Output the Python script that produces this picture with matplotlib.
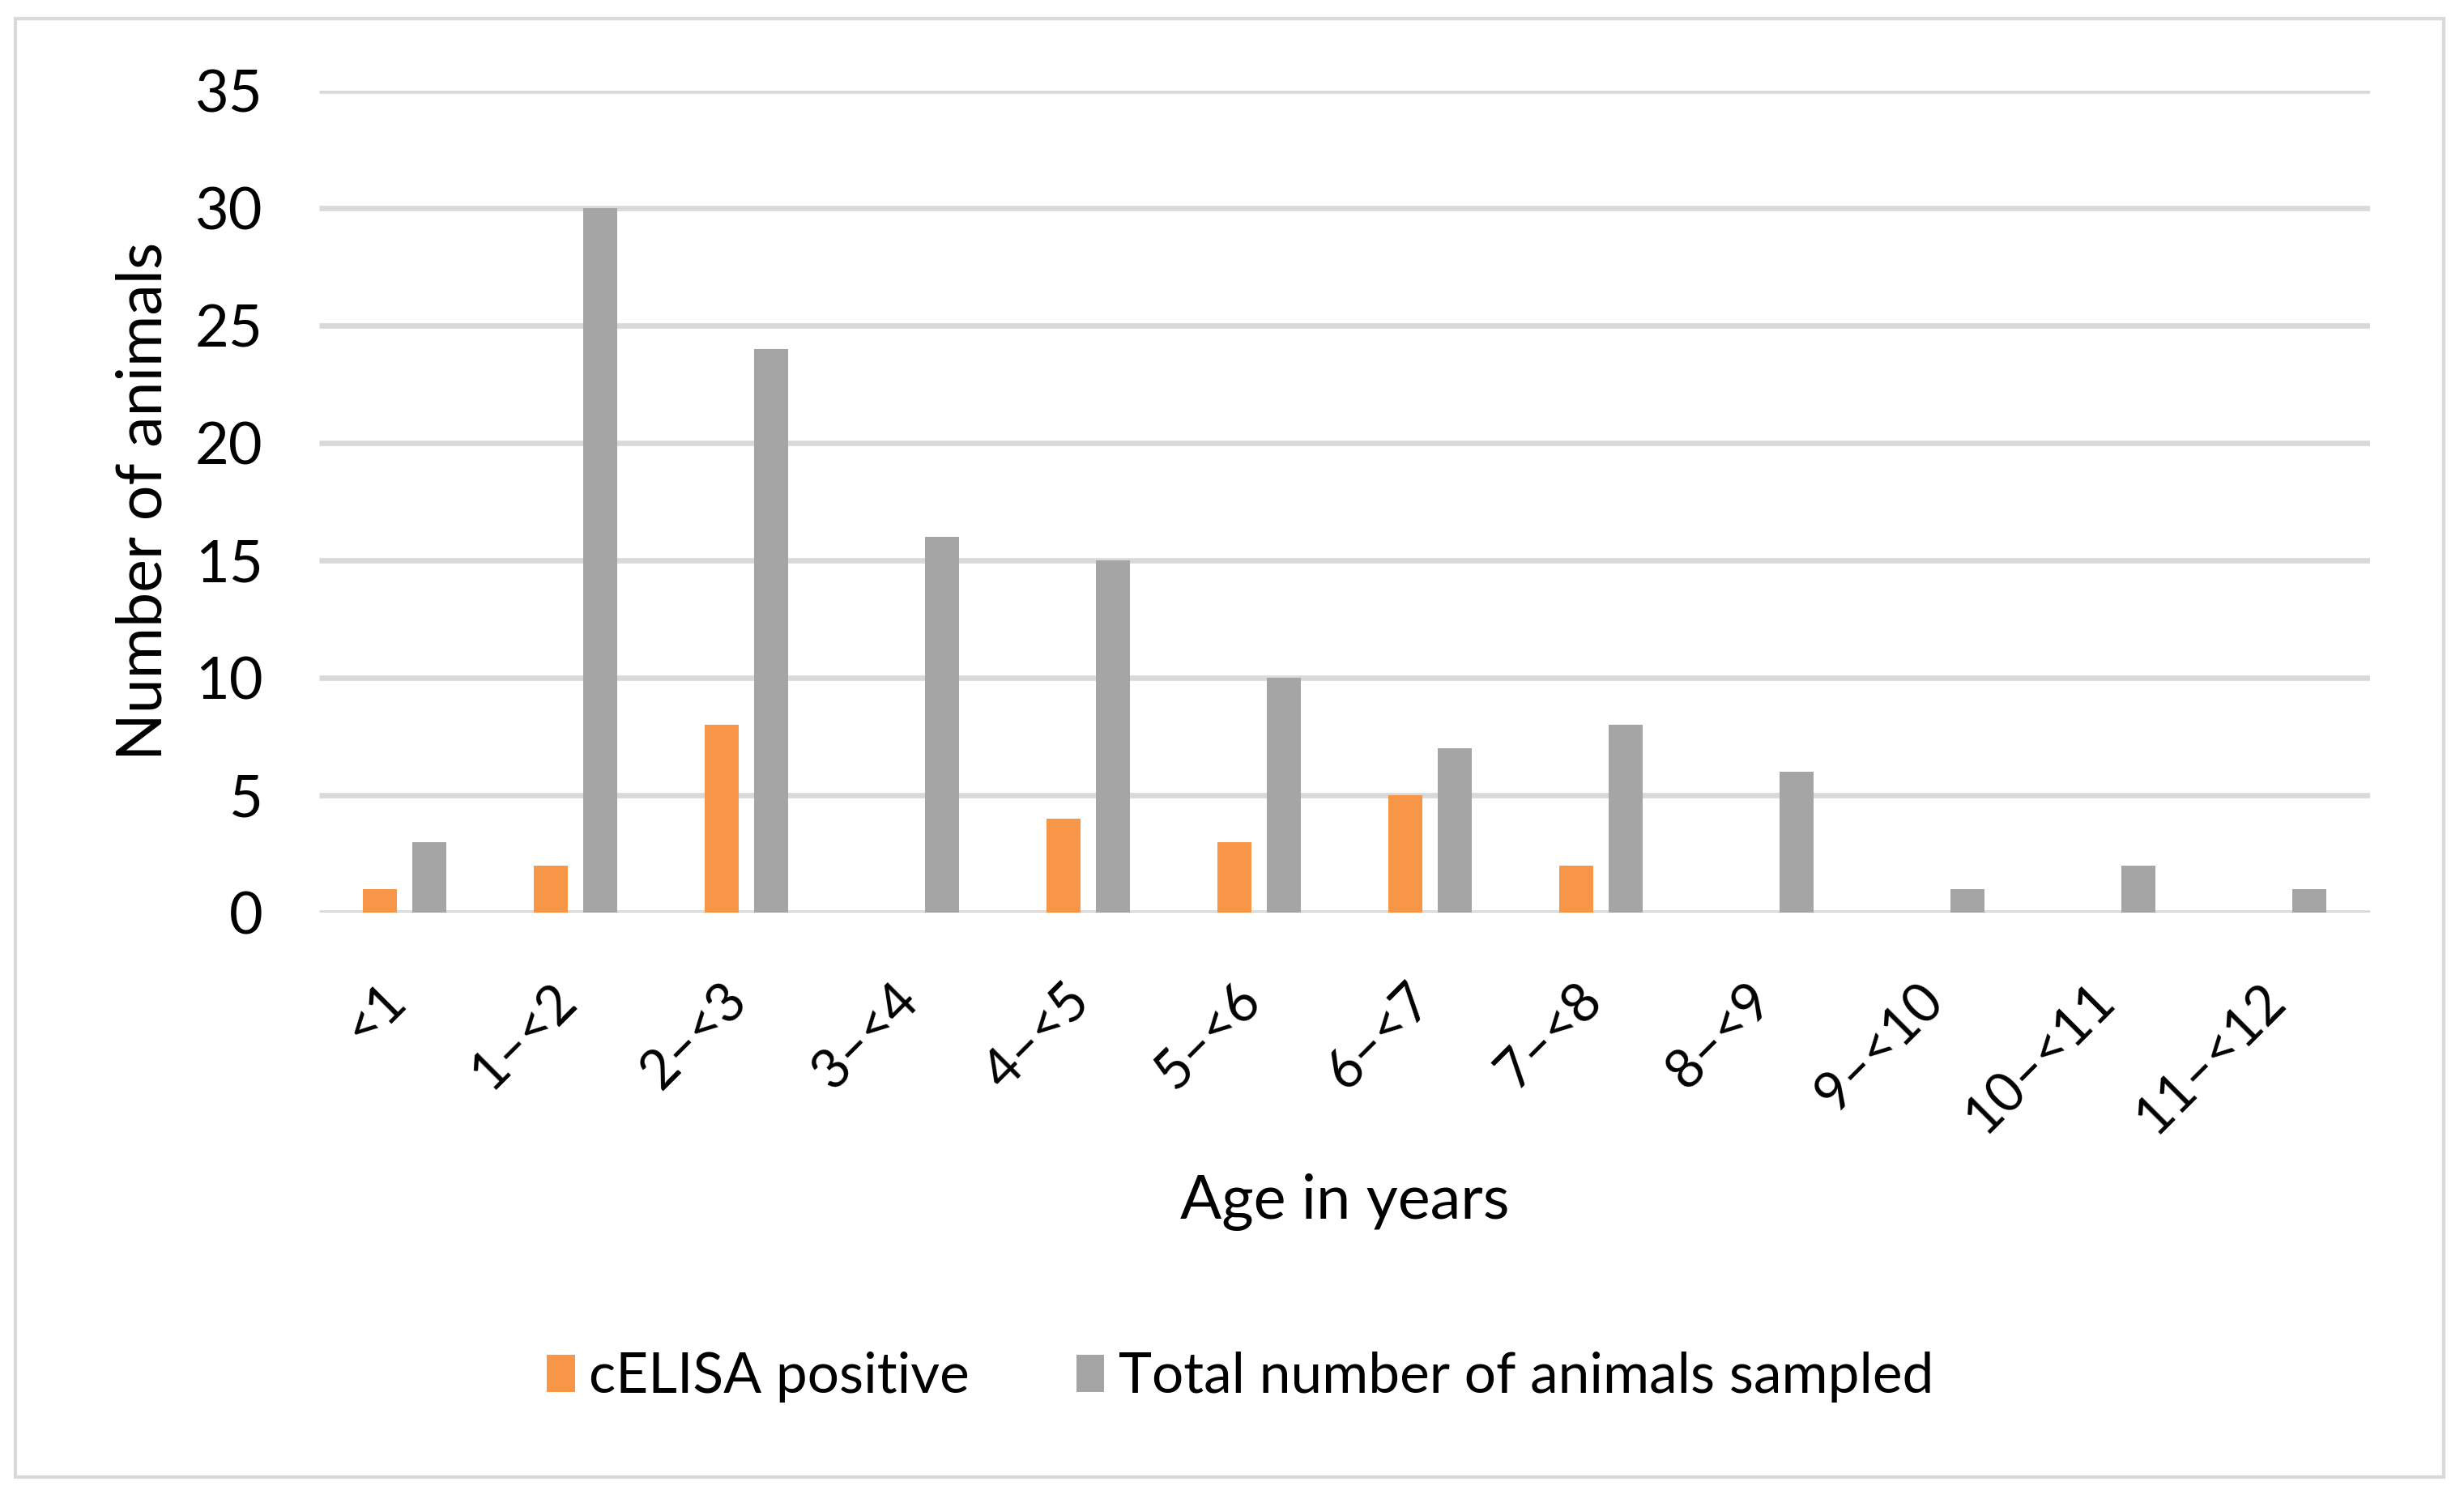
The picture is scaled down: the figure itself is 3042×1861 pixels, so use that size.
import matplotlib
matplotlib.use('Agg')
import matplotlib.pyplot as plt
import matplotlib.patches as mpatches
from matplotlib.transforms import ScaledTranslation
import numpy as np

# age classes and counts
age_classes = ['<1', '1–<2', '2–<3', '3–<4', '4–<5', '5–<6',
               '6–<7', '7–<8', '8–<9', '9–<10', '10–<11', '11–<12']
celisa_positive = [1, 2, 8, 0, 4, 3, 5, 2, 0, 0, 0, 0]
total_sampled = [3, 30, 24, 16, 15, 10, 7, 8, 6, 1, 2, 1]
y_ticks = [0, 5, 10, 15, 20, 25, 30, 35]

plt.rcParams['font.family'] = ['Lato', 'DejaVu Sans']

orange = '#F79646'
grey = '#A5A5A5'
grid_grey = '#D9D9D9'

# figure of 3042x1861 pixels
myFig = plt.figure(figsize=(30.42, 18.61), dpi=100)
W, H = 3042, 1861

# plot area in pixels, converted to figure fractions
left, right, top, bottom = 394, 2926, 112, 1127
ax = myFig.add_axes([left / W, 1 - bottom / H, (right - left) / W, (bottom - top) / H])

x = np.arange(len(age_classes))
bar_w = 0.2
offset = 0.145

# zero counts are not drawn
pos_x = [xi - offset for xi, v in zip(x, celisa_positive) if v > 0]
pos_v = [v for v in celisa_positive if v > 0]
ax.bar(pos_x, pos_v, width=bar_w, color=orange, zorder=3, label='cELISA positive')
ax.bar(x + offset, total_sampled, width=bar_w, color=grey, zorder=3,
       label='Total number of animals sampled')

ax.set_xlim(-0.5, len(age_classes) - 0.5)
ax.set_ylim(0, 35)

# horizontal gridlines drawn behind the bars
for yt in y_ticks:
    ax.axhline(yt, color=grid_grey, linewidth=4.8, zorder=1, solid_capstyle='butt')

for spine in ax.spines.values():
    spine.set_visible(False)

ax.set_yticks(y_ticks)
ax.set_yticklabels([str(v) for v in y_ticks], fontsize=52)
ax.tick_params(axis='y', length=0, pad=50)

ax.set_xticks(x)
ax.set_xticklabels(age_classes, fontsize=48, rotation=45, ha='right', va='top')
ax.tick_params(axis='x', length=0, pad=55)
# nudge the rotated labels slightly to the right, as in the original
shift = ScaledTranslation(13 / 100, 0, myFig.dpi_scale_trans)
for lbl in ax.get_xticklabels():
    lbl.set_transform(lbl.get_transform() + shift)

# axis titles
myFig.text(178 / W, 1 - 619 / H, 'Number of animals', rotation=90, ha='center', va='center',
           fontsize=55.5)
myFig.text(1660 / W, 1 - 1484 / H, 'Age in years', ha='center', va='center', fontsize=54.5)

# legend below the chart
handles = [mpatches.Patch(facecolor=orange, edgecolor='none', label='cELISA positive'),
           mpatches.Patch(facecolor=grey, edgecolor='none', label='Total number of animals sampled')]
myFig.legend(handles=handles, loc='center', bbox_to_anchor=(1531 / W, 1 - 1701 / H), ncol=2,
             frameon=False, fontsize=50, handlelength=0.5, handleheight=0.65,
             handletextpad=0.25, columnspacing=1.9)

# light grey chart border
border = mpatches.Rectangle((19 / W, 1 - 1824 / H), (3017 - 19) / W, (1824 - 23) / H,
                            transform=myFig.transFigure, fill=False, edgecolor=grid_grey,
                            linewidth=3)
myFig.patches.append(border)

myFig.savefig('out.png', dpi=100)
